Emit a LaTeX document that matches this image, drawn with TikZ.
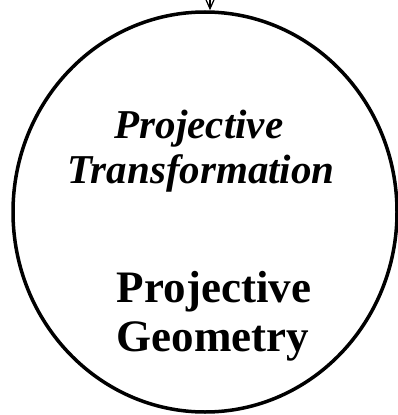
\documentclass[tikz,border=0pt]{standalone}
\usepackage{fontspec}
\setmainfont{Liberation Serif}
\usetikzlibrary{shapes.geometric,arrows.meta}
\tikzset{
  bigring/.style={ellipse,draw,line width=3.5pt,inner sep=0pt,minimum width=384pt,minimum height=400pt},
  itlabel/.style={anchor=base,inner sep=0pt,font=\fontsize{41}{45}\selectfont\bfseries\itshape},
  bdlabel/.style={anchor=base,inner sep=0pt,font=\fontsize{45}{49}\selectfont\bfseries},
  feed/.style={line width=1.2pt,-{Straight Barb[length=9pt,width=8pt]}}
}
\begin{document}
\begin{tikzpicture}[x=1pt,y=-1pt]
\useasboundingbox (0,0) rectangle (398,415);
\node[bigring] (c) at (205,212) {};
\node[itlabel] (t1) at (199,138) {Projective};
\node[itlabel] (t2) at (201,183) {Transformation};
\node[bdlabel] (g1) at (214,302) {Projective};
\node[bdlabel] (g2) at (213,351) {Geometry};
\coordinate (s) at (210,-2);
\draw[feed] (s) -- (s |- c.north);
\end{tikzpicture}
\end{document}
